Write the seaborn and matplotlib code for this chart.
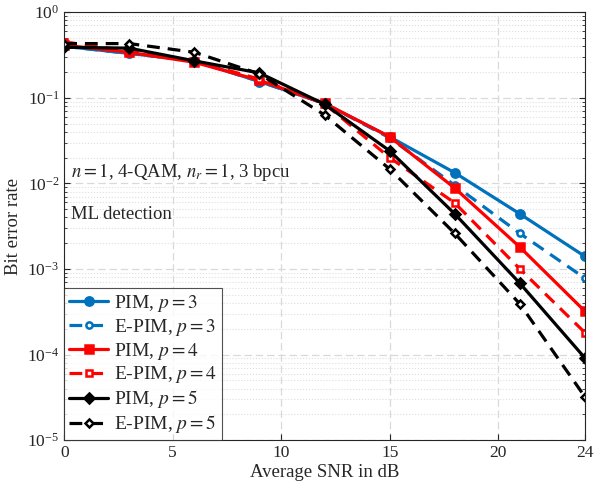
import numpy as np
import pandas as pd
import matplotlib
matplotlib.use("Agg")
import matplotlib.pyplot as plt
import seaborn as sns

snr_db = [0, 3, 6, 9, 12, 15, 18, 21, 24]

pim_p3 = [0.40, 0.33, 0.27, 0.155, 0.086, 0.035, 0.0133, 0.0044, 0.0014]
epim_p3 = [0.40, 0.33, 0.27, 0.155, 0.086, 0.034, 0.0095, 0.0026, 0.00078]
pim_p4 = [0.41, 0.34, 0.26, 0.16, 0.086, 0.035, 0.0088, 0.0018, 0.00032]
epim_p4 = [0.45, 0.35, 0.27, 0.165, 0.085, 0.020, 0.0059, 0.0010, 0.00018]
pim_p5 = [0.39, 0.38, 0.27, 0.195, 0.084, 0.024, 0.0044, 0.00068, 0.000091]
epim_p5 = [0.43, 0.43, 0.34, 0.19, 0.063, 0.0147, 0.0026, 0.00039, 0.000032]

series_labels = ["PIM, $p = 3$", "E-PIM, $p = 3$", "PIM, $p = 4$",
                 "E-PIM, $p = 4$", "PIM, $p = 5$", "E-PIM, $p = 5$"]
series_values = [pim_p3, epim_p3, pim_p4, epim_p4, pim_p5, epim_p5]

colors = ["#0072BD", "#0072BD", "#FF0000", "#FF0000", "black", "black"]
markers = ["o", "o", "s", "s", "D", "D"]
dashed = [False, True, False, True, False, True]

sns.set_style("ticks")
plt.rcParams["font.family"] = ["Liberation Serif", "DejaVu Serif"]
plt.rcParams["mathtext.fontset"] = "stix"

fig = plt.figure(figsize=(6, 4.88), dpi=100)
ax = fig.add_axes([0.107, 0.098, 0.868, 0.877])

for label, vals, c, m, d in zip(series_labels, series_values, colors, markers, dashed):
    df = pd.DataFrame({"snr": snr_db, "ber": vals})
    ms = 6 if m != "D" else 5.5
    sns.lineplot(data=df, x="snr", y="ber", ax=ax, color=c, lw=2.3,
                 marker=m, markersize=ms if not d else ms - 1.5,
                 markeredgewidth=1.8,
                 markerfacecolor="white" if d else c, markeredgecolor=c,
                 linestyle=(0, (4, 2.5)) if d else "-", label=label)

ax.set_yscale("log")
ax.set_xlim(0, 24)
ax.set_ylim(1e-5, 1)
ax.set_xticks([0, 5, 10, 15, 20, 24])
ax.set_xticklabels(["0", "5", "10", "15", "20", "24"])
ax.set_yticks([1e-5, 1e-4, 1e-3, 1e-2, 1e-1, 1])
ax.tick_params(which="both", direction="in", top=False, right=True, labelsize=12.5)
ax.tick_params(which="major", length=4)
ax.tick_params(which="minor", length=2)
ax.grid(which="major", linestyle=(0, (6, 3)), color="#d9d9d9", lw=0.9)
ax.grid(which="minor", axis="y", linestyle=":", color="#dedede", lw=0.8)
for s in ax.spines.values():
    s.set_color("#262626")
    s.set_linewidth(0.8)

ax.set_xlabel("Average SNR in dB", fontsize=13.5, labelpad=2)
ax.set_ylabel("Bit error rate", fontsize=13.5, labelpad=4)

ax.text(0.3, 0.0135, "$n = 1$, 4-QAM, $n_r = 1$, 3 bpcu", fontsize=13.5, va="center")
ax.text(0.3, 0.0043, "ML detection", fontsize=13.5, va="center")

leg = ax.legend(loc="lower left", fontsize=14, frameon=True, fancybox=False,
                edgecolor="#262626", borderaxespad=0, handlelength=2.0,
                labelspacing=0.15, borderpad=0.25, handletextpad=0.3)
leg.get_frame().set_linewidth(0.8)

fig.savefig("out.png", dpi=100)
